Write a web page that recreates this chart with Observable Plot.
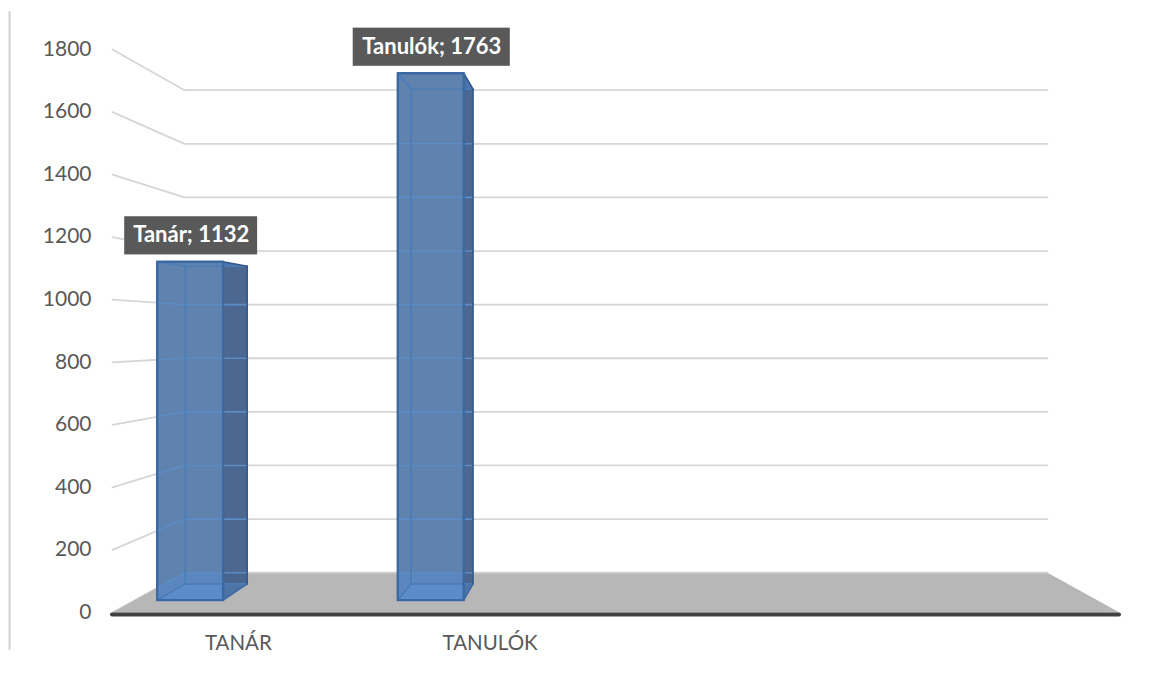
<!DOCTYPE html>
<html><head><meta charset="utf-8">
<style>html,body{margin:0;background:#fff}svg{display:block}</style>
<script src="https://cdn.jsdelivr.net/npm/d3@7"></script>
<script src="https://cdn.jsdelivr.net/npm/@observablehq/plot@0.6"></script>
</head><body>
<script>
const categories = ["TANÁR", "TANULÓK"];
const seriesNames = ["Tanár", "Tanulók"];
const seriesValues = [1132, 1763];
const yTicks = [0,200,400,600,800,1000,1200,1400,1600,1800];

// 3D view: vanishing point in data units; depth 0 = front of floor, 1 = back wall
const VU = 2, VV = 890, SHRINK = 0.143;
const sc = d => 1 - SHRINK * d;
const P = (u, v, d) => ({x: VU + (u - VU) * sc(d), y: VV + (v - VV) * sc(d)});
const D1 = 0.31, D2 = 0.72, BAR_W = 0.274, BAR_OFF = 0.23;

const poly = (pts, o) => Plot.line(pts, {x:"x", y:"y", curve:"linear-closed", ...o});
const seg = (pts, o) => Plot.line(pts, {x:"x", y:"y", ...o});

// wall grid
const grid = yTicks.flatMap(v => [
  {...P(0,v,0), v}, {...P(0,v,1), v}, {...P(4,v,1), v}
]);

function barMarks(i) {
  const v = seriesValues[i];
  const l = i + BAR_OFF - BAR_W/2, r = i + BAR_OFF + BAR_W/2;
  const fl = d => [P(l,0,d), P(r,0,d), P(r,v,d), P(l,v,d)];
  const fr = fl(D1), bk = fl(D2);
  const [a,b,c,e] = fr, [a2,b2,c2,e2] = bk;
  const lineB = "#4a7cb8", edge = "#3a69a3";
  const corner0 = P(0,0,1);
  // part of the front face that has the grey floor behind it
  const onFloor = [a, b, {x:b.x, y:corner0.y}];
  if (a.x < corner0.x) {
    onFloor.push(corner0, {x:a.x, y: VV * (1 - (VU - a.x) / VU)});
  } else onFloor.push({x:a.x, y:corner0.y});
  // gridlines seen through the glass
  const uL = a.x, uR = b2.x;
  const seen = yTicks.filter(t => t <= v).flatMap(t => {
    const corner = P(0,t,1);
    const pts = [];
    if (uL < corner.x) {
      const s = (VU - uL) / VU;
      pts.push({x: uL, y: VV + (t - VV) * s, t}, {...corner, t});
    } else pts.push({x: uL, y: corner.y, t});
    pts.push({x: uR, y: corner.y, t});
    return pts;
  });
  return [
    poly([b,b2,c2,c], {fill:"#42608a", fillOpacity:.95}),
    poly([e,c,c2,e2], {fill:"#4a74ad"}),
    poly(fr, {fill:"#5f82ae"}),
    poly(onFloor, {fill:"#5a93dc", fillOpacity:.35}),
    poly([a,b,b2,a2], {fill:"#5f9ae6", fillOpacity:.28}),
    seg(seen, {z:"t", stroke:"#5b8cc6", strokeWidth:1.6}),
    seg([a2,e2], {stroke:lineB, strokeWidth:1.6}),
    seg([e2,c2], {stroke:lineB, strokeWidth:1.6}),
    seg([a2,b2], {stroke:lineB, strokeWidth:1.6}),
    seg([a,a2], {stroke:lineB, strokeWidth:1.6}),
    seg([e,e2], {stroke:lineB, strokeWidth:1.6}),
    seg([b,b2], {stroke:edge, strokeWidth:1.6}),
    seg([b2,c2], {stroke:"#35598a", strokeWidth:1.6}),
    seg([c,c2], {stroke:"#35598a", strokeWidth:1.6}),
    poly(fr, {stroke:edge, strokeWidth:2.4})
  ];
}

// data labels sit a fixed distance above the bar's front top edge
const labels = seriesValues.map((v,i) => {
  const top = P(i + BAR_OFF, v, D1);
  const text = `${seriesNames[i]}; ${v}`;
  const hw = text.length * 0.024;
  const xc = top.x + 0.004;
  return {text, x: xc, y: top.y + 85, x1: xc - hw, x2: xc + hw, y1: top.y + 22, y2: top.y + 144};
});

const floor = [P(0,0,0), P(4,0,0), P(4,0,1), P(0,0,1)];

const plot = Plot.plot({
  width: 1152, height: 676,
  marginLeft: 112, marginRight: 33, marginTop: 49, marginBottom: 64,
  x: {domain:[0,4], axis:null},
  y: {domain:[0,1800], axis:null},
  style: {fontFamily:"Lato, sans-serif", background:"#fff", overflow:"visible"},
  marks: [
    Plot.ruleX([-0.409], {y1:-121, y2:1921, stroke:"#d0d0d0", strokeWidth:2}),
    Plot.line(grid, {x:"x", y:"y", z:"v", stroke:"#d6d6d6", strokeWidth:1.8}),
    poly(floor, {fill:"#b7b7b7"}),
    seg([P(0,0,1), P(4,0,1)], {stroke:"#cfcfcf", strokeWidth:1.6}),
    ...barMarks(0),
    ...barMarks(1),
    Plot.ruleY([0], {x1:0, x2:4, dy:2, stroke:"#404040", strokeWidth:4, strokeLinecap:"round"}),
    Plot.axisY({ticks:yTicks, tickSize:0, tickPadding:21, fontSize:21, color:"#595959", dy:-0.5, tickFormat:d=>String(d)}),
    Plot.axisX({ticks:[0.5,1.5], tickSize:0, tickPadding:23, fontSize:20.5, color:"#595959", tickFormat:t=>categories[Math.floor(t)]}),
    Plot.rect(labels, {x1:"x1", x2:"x2", y1:"y1", y2:"y2", fill:"#595959"}),
    Plot.text(labels, {x:"x", y:"y", text:"text", fill:"#fff", fontWeight:700, fontSize:22})
  ]
});
document.body.appendChild(plot);
</script>
</body></html>
